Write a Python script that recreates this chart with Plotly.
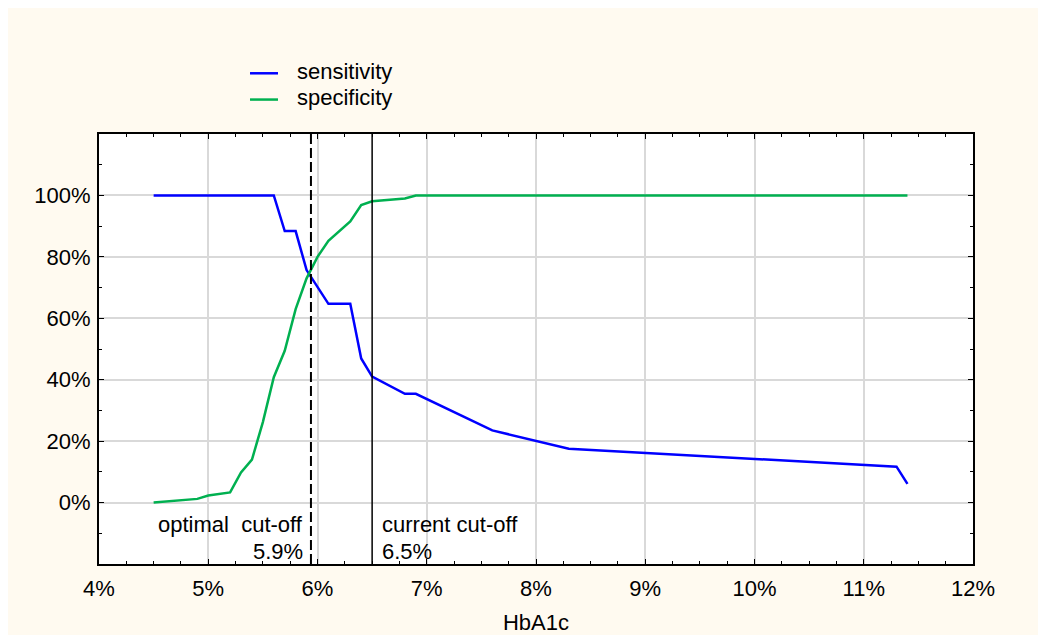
import plotly.graph_objects as go

# ---- data (HbA1c in %, rates as fractions) ----
sens_x = [4.5, 5.6, 5.7, 5.8, 5.9, 6.1, 6.3, 6.4, 6.5, 6.8, 6.9, 7.6, 8.3, 11.3, 11.4]
sens_y = [1.0, 1.0, 0.884, 0.884, 0.757, 0.647, 0.647, 0.469, 0.41, 0.354, 0.354, 0.235, 0.175, 0.117, 0.061]

spec_x = [4.5, 4.9, 5.0, 5.2, 5.3, 5.4, 5.5, 5.6, 5.7, 5.8, 5.9, 6.0, 6.1, 6.3, 6.4, 6.5, 6.8, 6.9, 11.4]
spec_y = [0.0, 0.012, 0.023, 0.033, 0.098, 0.14, 0.262, 0.408, 0.494, 0.63, 0.73, 0.80, 0.852, 0.915, 0.969, 0.981, 0.99, 1.0, 1.0]

optimal_cutoff = 5.94
current_cutoff = 6.5

x_ticks = [4, 5, 6, 7, 8, 9, 10, 11, 12]
y_ticks = [-0.2, 0, 0.2, 0.4, 0.6, 0.8, 1.0, 1.2]
y_labels = ["", "0%", "20%", "40%", "60%", "80%", "100%", ""]

series_names = ["sensitivity", "specificity"]
series_colors = ["#0000FF", "#00B050"]

FONT = "Liberation Sans, Arial, sans-serif"
CREAM = "#FFFAF0"
FS = 22

fig = go.Figure()
fig.add_trace(go.Scatter(x=sens_x, y=sens_y, mode="lines", name=series_names[0],
                         line=dict(color=series_colors[0], width=2.5), showlegend=False))
fig.add_trace(go.Scatter(x=spec_x, y=spec_y, mode="lines", name=series_names[1],
                         line=dict(color=series_colors[1], width=2.5), showlegend=False))

# cut-off lines
fig.add_shape(type="line", xref="x", yref="paper", x0=optimal_cutoff, x1=optimal_cutoff,
              y0=0, y1=1, line=dict(color="black", width=2, dash="10px,4px"))
fig.add_shape(type="line", xref="x", yref="paper", x0=current_cutoff, x1=current_cutoff,
              y0=0, y1=1, line=dict(color="black", width=1.5))

# legend drawn as key lines + labels above the plot
plot_h = 635 - 126 - 72
leg_px = [64.3, 91.0]  # vertical centres (figure px from top)
leg_y = [(126 + plot_h - p) / plot_h for p in leg_px]
for name, color, ly in zip(series_names, series_colors, leg_y):
    fig.add_shape(type="line", xref="paper", yref="paper", x0=0.1728, x1=0.2048, y0=ly, y1=ly,
                  line=dict(color=color, width=2.5))
    fig.add_annotation(x=0.2242, y=ly + 0.004, xref="paper", yref="paper", text=name, showarrow=False,
                       xanchor="left", yanchor="middle", font=dict(family=FONT, size=FS, color="black"))

ann_font = dict(family=FONT, size=FS, color="black")
fig.add_annotation(x=optimal_cutoff, y=-0.073, xref="x", yref="y", text="optimal\u00a0\u00a0cut-off",
                   showarrow=False, xanchor="right", yanchor="middle", xshift=-6, font=ann_font)
fig.add_annotation(x=optimal_cutoff, y=-0.16, xref="x", yref="y", text="5.9%",
                   showarrow=False, xanchor="right", yanchor="middle", xshift=-6, font=ann_font)
fig.add_annotation(x=current_cutoff, y=-0.073, xref="x", yref="y", text="current cut-off",
                   showarrow=False, xanchor="left", yanchor="middle", xshift=8, font=ann_font)
fig.add_annotation(x=current_cutoff, y=-0.16, xref="x", yref="y", text="6.5%",
                   showarrow=False, xanchor="left", yanchor="middle", xshift=8, font=ann_font)

fig.update_layout(
    width=1046, height=635,
    margin=dict(l=91, r=81, t=126, b=72),
    paper_bgcolor=CREAM, plot_bgcolor="white",
    font=dict(family=FONT, size=FS, color="black"),
    showlegend=False,
    xaxis=dict(range=[4, 12], tickvals=x_ticks, ticktext=[f"{v}%" for v in x_ticks],
               showgrid=True, gridcolor="#D9D9D9", gridwidth=1.5,
               showline=True, linecolor="black", linewidth=2, mirror="allticks",
               ticks="inside", ticklen=5, tickcolor="black", zeroline=False,
               ticklabelstandoff=4,
               minor=dict(dtick=0.25, tick0=4, ticks="inside", ticklen=3, tickcolor="black", showgrid=False),
               title=dict(text="HbA1c", standoff=14, font=dict(family=FONT, size=FS))),
    yaxis=dict(range=[-0.2, 1.2], tickvals=y_ticks, ticktext=y_labels,
               showgrid=True, gridcolor="#D9D9D9", gridwidth=1.5,
               showline=True, linecolor="black", linewidth=2, mirror="allticks",
               ticks="inside", ticklen=5, tickcolor="black", zeroline=False,
               ticklabelstandoff=2,
               minor=dict(dtick=0.1, tick0=0, ticks="inside", ticklen=3, tickcolor="black", showgrid=False)),
)

fig.write_html("out.html")
